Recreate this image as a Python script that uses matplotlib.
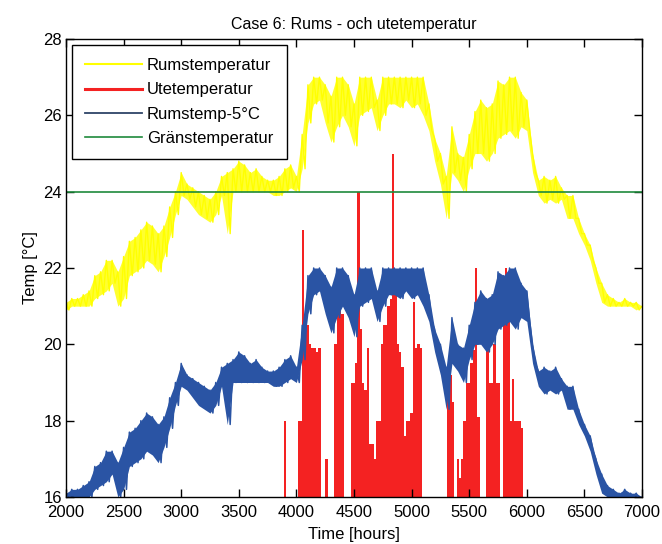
import numpy as np
import matplotlib.pyplot as plt
from matplotlib.lines import Line2D

plt.rcParams['font.family'] = ['Liberation Sans', 'DejaVu Sans']

# room temperature: top and bottom of the hourly swing, every 50 h
hours = np.arange(2000, 7001, 50)
room_high = [21.1, 21.2, 21.2, 21.3, 21.4, 21.8, 21.9, 22.2, 22.2, 21.9,
             22.3, 22.7, 22.8, 23.0, 23.2, 23.1, 22.9, 23.1, 23.6, 24.0,
             24.5, 24.2, 24.1, 24.0, 23.9, 23.8, 24.0, 24.4, 24.5, 24.6,
             24.8, 24.7, 24.5, 24.6, 24.4, 24.3, 24.3, 24.4, 24.6, 24.7,
             24.4, 25.5, 26.8, 27.0, 27.0, 26.8, 26.5, 27.0, 27.0, 26.8,
             26.3, 27.0, 27.0, 27.0, 26.4, 27.0, 27.0, 27.0, 27.0, 27.0,
             27.0, 27.0, 27.0, 26.3, 25.4, 25.0, 24.4, 25.7, 25.0, 24.9,
             25.5, 26.1, 26.4, 26.2, 26.3, 26.9, 26.8, 27.0, 27.0, 26.6,
             26.4, 25.0, 24.3, 24.4, 24.3, 24.4, 24.1, 23.9, 23.9, 23.3,
             22.9, 22.6, 22.0, 21.6, 21.3, 21.2, 21.1, 21.2, 21.1, 21.1,
             21.0]
room_low = [20.9, 21.0, 21.0, 21.0, 21.0, 21.2, 21.3, 21.4, 21.6, 21.0,
            21.2, 21.8, 21.9, 22.0, 22.2, 22.1, 21.9, 22.3, 22.8, 23.4,
            23.9, 23.8, 23.6, 23.4, 23.3, 23.2, 23.4, 23.9, 22.9, 24.0,
            24.0, 24.0, 24.0, 24.0, 24.0, 24.0, 23.9, 23.9, 24.0, 24.1,
            24.0, 24.6, 25.8, 26.3, 26.4, 25.8, 25.3, 25.7, 26.0, 25.7,
            25.2, 26.0, 26.1, 26.2, 25.6, 26.0, 26.3, 26.3, 26.2, 26.4,
            26.2, 26.3, 26.0, 25.6, 24.8, 24.2, 23.3, 24.5, 24.3, 24.0,
            24.6, 25.0, 25.0, 24.8, 25.0, 25.4, 25.5, 25.6, 25.4, 25.7,
            25.6, 24.5, 23.9, 23.7, 23.8, 23.7, 23.8, 23.3, 23.3, 22.9,
            22.6, 22.2, 21.6, 21.1, 21.0, 21.0, 21.0, 21.0, 21.0, 20.9,
            21.0]

# outdoor temperature over the warm months, every 20 h
out_hours = np.arange(3860, 6001, 20)
out_temp = [15.0, 15.0, 18.0, 15.0, 15.0, 15.0, 15.0, 15.0, 18.0, 18.0,
            23.0, 20.6, 20.5, 20.0, 19.9, 19.9, 19.8, 19.9, 15.0, 15.0,
            17.0, 15.0, 15.0, 15.0, 20.0, 20.9, 21.0, 20.8, 15.0, 15.0,
            15.0, 19.0, 19.0, 19.5, 24.0, 20.4, 19.0, 18.8, 19.9, 17.4,
            17.4, 17.0, 18.0, 18.0, 20.0, 20.5, 20.5, 21.0, 21.2, 25.0,
            21.4, 20.0, 19.8, 19.4, 17.6, 18.0, 18.0, 18.2, 21.1, 19.9,
            20.0, 19.9, 15.0, 15.0, 15.0, 15.0, 15.0, 15.0, 15.0, 15.0,
            15.0, 15.0, 15.0, 19.2, 19.2, 18.5, 15.0, 17.0, 16.5, 17.0,
            18.0, 19.0, 19.0, 19.5, 19.85, 22.0, 18.1, 15.0, 15.0, 15.0,
            20.0, 19.0, 19.0, 20.0, 19.0, 19.0, 15.0, 20.6, 22.0, 20.6,
            18.0, 19.1, 18.0, 18.0, 18.0, 17.8, 15.0, 15.0]

limit_temp = 24.0
offset = 5.0

c_room = '#ffff00'
c_out = '#f42222'
c_shift = '#2a54a4'
c_limit = '#1f8a3c'

fig = plt.figure(figsize=(6.62, 5.44), dpi=100)
ax = fig.add_axes([0.0997, 0.0864, 0.8701, 0.8419])

# zigzag between the top and bottom of the swing, band filled underneath
zig_x = np.column_stack([hours, hours + 25]).ravel()
zig_y = np.column_stack([room_high, room_low]).ravel()
lo = np.array(room_low)
hi = np.array(room_high)

ax.fill_between(hours, lo, hi, color='#ffff30', lw=0)
ax.plot(zig_x, zig_y, color=c_room, lw=1.0)
ax.bar(out_hours, out_temp, width=20, color=c_out, linewidth=0)
ax.fill_between(hours, lo - offset, hi - offset, color=c_shift, lw=0)
ax.plot(zig_x, zig_y - offset, color=c_shift, lw=1.1)
ax.axhline(limit_temp, color=c_limit, lw=1.2)

ax.set_xlim(2000, 7000)
ax.set_ylim(16, 28)
ax.set_xticks(np.arange(2000, 7001, 500))
ax.set_yticks(np.arange(16, 29, 2))
ax.tick_params(direction='in', length=6, width=1, top=True, right=True,
               labelsize=12)
ax.tick_params(axis='x', pad=6)
ax.tick_params(axis='y', pad=3)
for s in ax.spines.values():
    s.set_linewidth(1.0)

ax.set_title('Case 6: Rums - och utetemperatur', fontsize=11.5, pad=7)
ax.set_xlabel('Time [hours]', fontsize=12, labelpad=5)
ax.set_ylabel('Temp [°C]', fontsize=12, labelpad=4)

handles = [Line2D([], [], color=c_room, lw=1.5),
           Line2D([], [], color=c_out, lw=2.2),
           Line2D([], [], color='#2e4468', lw=1.3),
           Line2D([], [], color=c_limit, lw=1.2)]
labels = ['Rumstemperatur', 'Utetemperatur', 'Rumstemp-5°C', 'Gränstemperatur']
leg = ax.legend(handles, labels, loc='upper left', fontsize=12,
                handlelength=3.4, handletextpad=0.3, borderaxespad=0.35,
                labelspacing=0.55, borderpad=0.8,
                fancybox=False, framealpha=1, edgecolor='black')
leg.get_frame().set_linewidth(1.0)

fig.savefig('out.png', dpi=100)
